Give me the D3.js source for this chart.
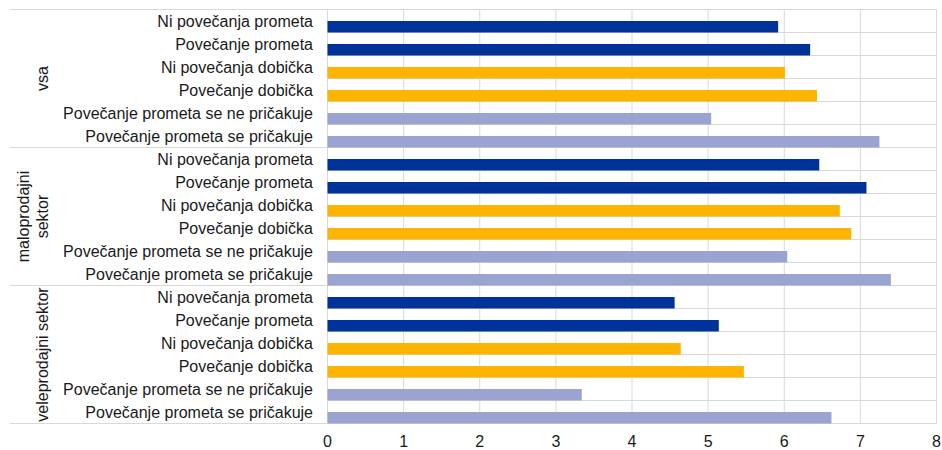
<!DOCTYPE html>
<html>
<head>
<meta charset="utf-8">
<script src="https://cdn.jsdelivr.net/npm/d3@7"></script>
<style>
  html, body { margin: 0; padding: 0; background: #fff; }
  svg { display: block; font-family: "Liberation Sans", Arial, sans-serif; }
</style>
</head>
<body>
<svg id="chart" width="942" height="450"></svg>
<script>
// Sector groups (outer category level)
const groups = ["vsa", "maloprodajni sektor", "veleprodajni sektor"];
// Group labels as drawn (line breaks)
const groupLines = [["vsa"], ["maloprodajni", "sektor"], ["veleprodajni sektor"]];
// Inner categories, repeated for each group
const categories = [
  "Ni povečanja prometa",
  "Povečanje prometa",
  "Ni povečanja dobička",
  "Povečanje dobička",
  "Povečanje prometa se ne pričakuje",
  "Povečanje prometa se pričakuje"
];
// Values per group, in category order
const vsaValues = [5.92, 6.34, 6.01, 6.43, 5.04, 7.25];
const maloValues = [6.46, 7.08, 6.73, 6.88, 6.04, 7.40];
const veleValues = [4.56, 5.14, 4.64, 5.47, 3.34, 6.62];
const categoryColors = ["#003399", "#003399", "#FFB400", "#FFB400", "#9BA3D1", "#9BA3D1"];
const xTicks = [0, 1, 2, 3, 4, 5, 6, 7, 8];

const groupValues = [vsaValues, maloValues, veleValues];

const rows = [];
groups.forEach((g, gi) => {
  categories.forEach((c, ci) => {
    rows.push({ key: gi + "|" + ci, group: g, gi, cat: c, ci, value: groupValues[gi][ci] });
  });
});

const svg = d3.select("#chart");
const plotLeft = 327.5, plotRight = 936.5, plotTop = 9.5, plotBottom = 423.5, outerLeft = 10;
const gridColor = "#d9d9d9";

const x = d3.scaleLinear().domain([0, 8]).range([plotLeft, plotRight]);
const y = d3.scaleBand().domain(rows.map(d => d.key)).range([plotTop, plotBottom]).padding(0);
const bw = y.bandwidth();

// Vertical grid lines
svg.append("g").selectAll("line").data(xTicks).join("line")
  .attr("x1", d => x(d)).attr("x2", d => x(d))
  .attr("y1", plotTop).attr("y2", plotBottom)
  .attr("stroke", gridColor).attr("stroke-width", 1);

// Horizontal row lines inside the plot
const rowEdges = rows.map(d => y(d.key)).concat([plotBottom]);
svg.append("g").selectAll("line").data(rowEdges).join("line")
  .attr("x1", plotLeft).attr("x2", plotRight)
  .attr("y1", d => d).attr("y2", d => d)
  .attr("stroke", gridColor).attr("stroke-width", 1);

// Group separators extending across the label area
const groupEdges = groups.map((g, gi) => y(gi + "|0")).concat([plotBottom]);
svg.append("g").selectAll("line").data(groupEdges).join("line")
  .attr("x1", outerLeft).attr("x2", plotLeft)
  .attr("y1", d => d).attr("y2", d => d)
  .attr("stroke", gridColor).attr("stroke-width", 1.2);

// Bars (lower half of each row)
svg.append("g").selectAll("rect").data(rows).join("rect")
  .attr("x", x(0))
  .attr("y", d => y(d.key) + bw * 0.5)
  .attr("width", d => x(d.value) - x(0))
  .attr("height", bw * 0.5)
  .attr("fill", d => categoryColors[d.ci]);

// Category labels
svg.append("g").selectAll("text").data(rows).join("text")
  .attr("x", 313)
  .attr("y", d => y(d.key) + bw / 2)
  .attr("text-anchor", "end")
  .attr("dominant-baseline", "central")
  .attr("font-size", 16)
  .attr("fill", "#1a1a1a")
  .text(d => d.cat);

// Group labels, rotated
groups.forEach((g, gi) => {
  const yc = (groupEdges[gi] + groupEdges[gi + 1]) / 2;
  const lines = groupLines[gi];
  const lineH = 19;
  const xc = 42 - (lines.length - 1) * lineH;
  const t = svg.append("text")
    .attr("transform", `translate(${xc},${yc}) rotate(-90)`)
    .attr("text-anchor", "middle")
    .attr("font-size", 16)
    .attr("fill", "#1a1a1a");
  lines.forEach((ln, li) => {
    t.append("tspan").attr("x", 0).attr("y", li * lineH)
      .attr("dominant-baseline", "central").text(ln);
  });
});

// X axis tick labels
svg.append("g").selectAll("text").data(xTicks).join("text")
  .attr("x", d => x(d))
  .attr("y", 441)
  .attr("text-anchor", "middle")
  .attr("dominant-baseline", "central")
  .attr("font-size", 16)
  .attr("fill", "#1a1a1a")
  .text(d => d);
</script>
</body>
</html>
